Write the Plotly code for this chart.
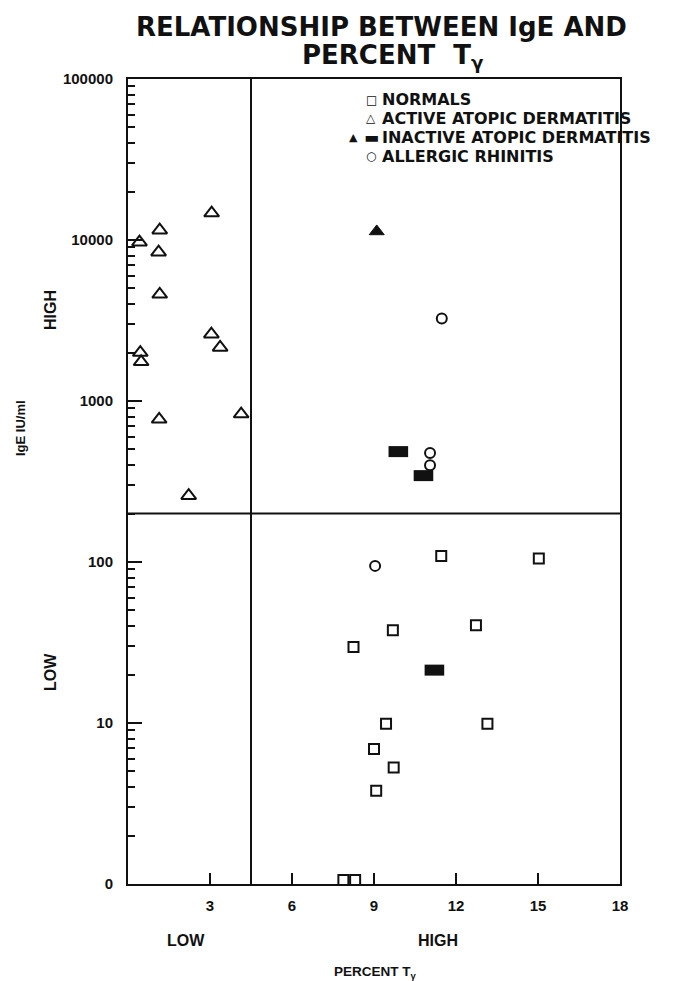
import plotly.graph_objects as go

# ---------------- data ----------------
normals_x = [11.46, 15.03, 9.69, 12.73, 8.25, 9.44, 13.15, 9.00, 9.72, 9.08, 7.88, 8.31]
normals_y = [109, 105, 37.7, 40.5, 29.7, 9.9, 9.9, 6.9, 5.3, 3.8, 1.06, 1.06]

active_x = [3.06, 1.16, 0.42, 1.12, 1.16, 3.05, 3.37, 0.45, 0.48, 4.14, 1.14, 2.22]
active_y = [14700, 11500, 9700, 8400, 4600, 2600, 2150, 2000, 1750, 830, 770, 258]

inactive_tri_x = [9.10]
inactive_tri_y = [11300]
inactive_rect_x = [9.89, 10.81, 11.21]
inactive_rect_y = [485, 344, 21.3]

rhinitis_x = [11.48, 11.05, 11.05, 9.04]
rhinitis_y = [3250, 476, 399, 94.6]

x_ticks = [3, 6, 9, 12, 15, 18]
y_tickvals = [1, 10, 100, 1000, 10000, 100000]
y_ticktext = ["0", "10", "100", "1000", "10000", "100000"]

x_threshold = 4.5      # LOW / HIGH percent T-gamma
y_threshold = 200      # LOW / HIGH IgE

legend_labels = ["NORMALS", "ACTIVE ATOPIC DERMATITIS",
                 "INACTIVE ATOPIC DERMATITIS", "ALLERGIC RHINITIS"]

FONT = "Liberation Sans"
WIDE = "DejaVu Sans"
BLACK = "#111111"

fig = go.Figure()

fig.add_trace(go.Scatter(
    x=normals_x, y=normals_y, mode="markers", name="NORMALS",
    marker=dict(symbol="square-open", size=10, color=BLACK, line=dict(width=2, color=BLACK)),
    cliponaxis=False))
fig.add_trace(go.Scatter(
    x=active_x, y=active_y, mode="markers", name="ACTIVE ATOPIC DERMATITIS",
    marker=dict(symbol="triangle-up-open", size=13, color=BLACK, line=dict(width=2, color=BLACK))))
fig.add_trace(go.Scatter(
    x=inactive_tri_x, y=inactive_tri_y, mode="markers", name="INACTIVE (triangle)",
    marker=dict(symbol="triangle-up", size=13, color=BLACK, line=dict(width=1, color=BLACK))))
fig.add_trace(go.Scatter(
    x=inactive_rect_x, y=inactive_rect_y, mode="markers", name="INACTIVE ATOPIC DERMATITIS",
    marker=dict(symbol="line-ew", size=14, color=BLACK, line=dict(width=11, color=BLACK))))
fig.add_trace(go.Scatter(
    x=rhinitis_x, y=rhinitis_y, mode="markers", name="ALLERGIC RHINITIS",
    marker=dict(symbol="circle-open", size=10, color=BLACK, line=dict(width=2, color=BLACK))))

# quadrant dividers
fig.add_shape(type="line", xref="x", yref="paper", x0=x_threshold, x1=x_threshold, y0=0, y1=1,
              line=dict(color=BLACK, width=2))
fig.add_shape(type="line", xref="paper", yref="y", x0=0, x1=1, y0=y_threshold, y1=y_threshold,
              line=dict(color=BLACK, width=2))

minor_vals = [k * 10 ** d for d in range(0, 5) for k in range(2, 10)]

fig.update_layout(
    width=674, height=981,
    margin=dict(l=128, r=54, t=79, b=97),
    paper_bgcolor="white", plot_bgcolor="white",
    showlegend=False,
    font=dict(family=FONT, color=BLACK, size=13, weight="bold"),
    xaxis=dict(
        range=[0, 18], tickvals=x_ticks, ticks="inside", ticklen=11, tickwidth=2,
        tickcolor=BLACK, showline=True, linewidth=2, linecolor=BLACK, mirror=True,
        showgrid=False, zeroline=False, ticklabelstandoff=7,
        tickfont=dict(family=FONT, size=15, color=BLACK, weight="bold")),
    yaxis=dict(
        type="log", range=[0, 5], tickvals=y_tickvals, ticktext=y_ticktext,
        ticks="inside", ticklen=14, tickwidth=2, tickcolor=BLACK,
        minor=dict(tickvals=minor_vals, ticks="inside", ticklen=7, tickwidth=2, tickcolor=BLACK),
        showline=True, linewidth=2, linecolor=BLACK, mirror=True,
        showgrid=False, zeroline=False, ticklabelstandoff=10,
        tickfont=dict(family=FONT, size=15, color=BLACK, weight="bold")),
)

PH = 805.0  # plot height in px (for converting text placements)
PW = 492.0

def py(pix):
    return (884 - pix) / PH

def px(pix):
    return (pix - 128) / PW

def label(x, y, text, size, family=FONT, angle=0, xanchor="center"):
    fig.add_annotation(xref="paper", yref="paper", x=px(x), y=py(y), text=text,
                       showarrow=False, xanchor=xanchor, yanchor="middle", textangle=angle,
                       font=dict(family=family, size=size, color=BLACK, weight="bold"))

# title
label(381, 27, "RELATIONSHIP BETWEEN IgE AND", 26, family=WIDE)
label(393, 57, "PERCENT  T<sub>γ</sub>", 26, family=WIDE)

# legend built from text (inside the upper right quadrant)
leg_y = [100, 118.5, 137.5, 156]
leg_sym = ["□", "△", "▬", "○"]
for yy, lab, sym in zip(leg_y, legend_labels, leg_sym):
    label(380, yy, lab, 16, family=WIDE, xanchor="left")
    fig.add_annotation(xref="paper", yref="paper", x=px(371), y=py(yy), text=sym, showarrow=False,
                       xanchor="center", yanchor="middle",
                       font=dict(family="DejaVu Sans", size=12 if sym != "▬" else 16, color=BLACK))
fig.add_annotation(xref="paper", yref="paper", x=px(353), y=py(leg_y[2]), text="▲", showarrow=False,
                   xanchor="center", yanchor="middle",
                   font=dict(family="DejaVu Sans", size=11, color=BLACK))

# axis descriptive labels
label(186, 940, "LOW", 16)
label(438, 940, "HIGH", 16)
label(375, 972, "PERCENT T<sub>γ</sub>", 13.5)
label(20, 428, "IgE IU/ml", 13, angle=-90)
label(50, 310, "HIGH", 16, angle=-90)
label(50, 672, "LOW", 16, angle=-90)

fig.write_html("out.html")
